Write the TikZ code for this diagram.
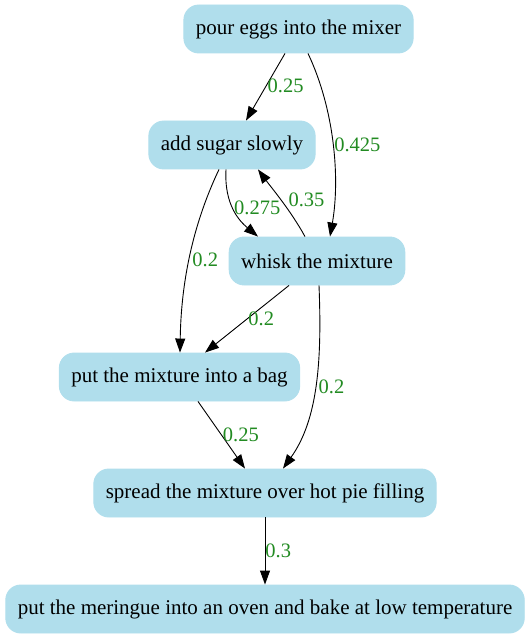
\documentclass[tikz,border=0pt]{standalone}
\usepackage{fontspec}
\setmainfont{Liberation Serif}
\usetikzlibrary{arrows.meta}

\begin{document}
\begin{tikzpicture}[x=1pt,y=-1pt,
   task/.style={fill=lightblue,draw=lightblue,rounded corners=15pt,
      minimum height=48pt,inner xsep=12pt,font=\fontsize{21}{25}\selectfont},
   wt/.style={text=wtgreen,anchor=west,inner sep=1pt,font=\fontsize{20.5}{25}\selectfont},
   every path/.style={line width=.9pt},
   flow/.style={draw,-{Triangle[length=14pt,width=10pt]}}]
\definecolor{lightblue}{HTML}{B0DEEC}
\definecolor{wtgreen}{HTML}{228B22}
\useasboundingbox (0,0) rectangle (531,639);
\node[task] (pour)   at (298.5,29)  {pour eggs into the mixer};
\node[task] (sugar)  at (232,145)   {add sugar slowly};
\node[task] (whisk)  at (317,261)   {whisk the mixture};
\node[task] (bag)    at (179.5,377) {put the mixture into a bag};
\node[task] (spread) at (265,493)   {spread the mixture over hot pie filling};
\node[task] (oven)   at (265,609)   {put the meringue into an oven and bake at low temperature};
% edges with weights
\path[flow] ([xshift=-13.5pt]pour.south) -- node[wt,pos=.48] {0.25} ([xshift=14pt]sugar.north);
\path[flow] ([xshift=9.5pt]pour.south) .. controls +(27,57) and +(10,-57) .. node[wt,pos=.5] {0.425} ([xshift=13pt]whisk.north);
\path[flow] ([xshift=-6pt]sugar.south) .. controls +(-2,36) and +(-18,-15) .. node[wt,pos=.45] {0.275} ([xshift=-59pt]whisk.north);
\path[flow] ([xshift=-12pt]whisk.north) .. controls +(-15,-27) and +(14,19) .. node[wt,pos=.5,xshift=6pt] {0.35} ([xshift=26pt]sugar.south);
\path[flow] ([xshift=-13pt]sugar.south) .. controls +(-29,61) and +(1,-63) .. node[wt,pos=.5,xshift=2pt] {0.2} ([xshift=.5pt]bag.north);
\path[flow] ([xshift=-28pt]whisk.south) -- node[wt,pos=.5] {0.2} ([xshift=25.5pt]bag.north);
\path[flow] ([xshift=2pt]whisk.south) .. controls +(3,75) and +(35,-49) .. node[wt,pos=.5,xshift=2pt] {0.2} ([xshift=18pt]spread.north);
\path[flow] ([xshift=18.5pt]bag.south) -- node[wt,pos=.5] {0.25} ([xshift=-20pt]spread.north);
\path[flow] (spread.south) -- node[wt,pos=.5,inner sep=0pt] {0.3} (oven.north);
\end{tikzpicture}
\end{document}
